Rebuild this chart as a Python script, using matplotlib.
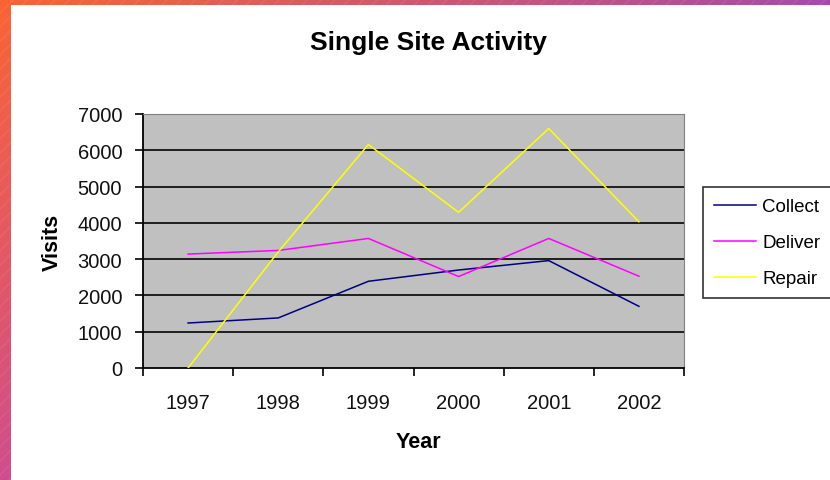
import numpy as np
import matplotlib
matplotlib.use("Agg")
import matplotlib.pyplot as plt
from matplotlib.patches import Rectangle

years = ["1997", "1998", "1999", "2000", "2001", "2002"]
collect = [1240, 1380, 2390, 2700, 2960, 1700]
deliver = [3140, 3240, 3570, 2520, 3570, 2530]
repair = [0, 3200, 6160, 4290, 6600, 4030]
series_names = ["Collect", "Deliver", "Repair"]
series_colors = ["#000080", "#FF00FF", "#FFFF00"]
y_ticks = [0, 1000, 2000, 3000, 4000, 5000, 6000, 7000]

plt.rcParams['font.family'] = ['Liberation Sans', 'DejaVu Sans']

W, H = 830, 481
fig = plt.figure(figsize=(W / 100, H / 100), dpi=100)

# gradient border background
bg = fig.add_axes([0, 0, 1, 1])
bg.set_axis_off()
xx = np.linspace(0, 1, 200)[None, :]
yy = np.linspace(0, 1, 120)[:, None]
TL = np.array([0xFA, 0x64, 0x34]) / 255
TR = np.array([0xA4, 0x4C, 0xA8]) / 255
BL = np.array([0xD0, 0x4E, 0x8C]) / 255
img = TL[None, None, :] + (TR - TL)[None, None, :] * xx[..., None] + (BL - TL)[None, None, :] * yy[..., None]
img = np.clip(img, 0, 1)
bg.imshow(img, extent=[0, W, H, 0], aspect='auto', interpolation='bilinear')
for s in range(-500, W + 500, 14):
    bg.plot([s, s + 500], [500, 0], color='white', alpha=0.12, lw=0.6)
bg.add_patch(Rectangle((11, 6), W, H, facecolor='white', edgecolor='none', zorder=5))
bg.set_xlim(0, W)
bg.set_ylim(H, 0)

# main axes
L, R, T, B = 143, 684, 115, 369
ax = fig.add_axes([L / W, 1 - B / H, (R - L) / W, (B - T) / H])
ax.set_facecolor('#C0C0C0')
x = np.arange(len(years))
for vals, name, col in zip([collect, deliver, repair], series_names, series_colors):
    ax.plot(x, vals, color=col, lw=1.1, label=name, zorder=3)

ax.set_xlim(-0.5, len(years) - 0.5)
ax.set_ylim(0, 7000)
ax.set_yticks(y_ticks)
ax.set_yticklabels([str(v) for v in y_ticks])
ax.set_xticks(np.arange(-0.5, len(years), 1.0))
ax.set_xticklabels([])
ax.set_xticks(x, minor=True)
ax.set_xticklabels(years, minor=True)
ax.tick_params(axis='x', which='major', direction='out', length=6, width=1.2, color='black')
ax.tick_params(axis='x', which='minor', length=0, pad=18, labelsize=14.5, labelcolor='#111111')
ax.tick_params(axis='y', direction='out', length=6, width=1.2, color='black', pad=9,
               labelsize=14.5, labelcolor='#111111')
for yv in y_ticks[1:-1]:
    ax.axhline(yv, color='#111111', lw=1.3, zorder=2)
ax.spines['left'].set_color('black')
ax.spines['bottom'].set_color('black')
ax.spines['left'].set_linewidth(1.3)
ax.spines['bottom'].set_linewidth(1.3)
ax.spines['top'].set_color('#808080')
ax.spines['right'].set_color('#808080')

fig.text(428 / W, 1 - 43 / H, "Single Site Activity", ha='center', va='center',
         fontsize=19, fontweight='bold')
fig.text(418 / W, 1 - 442 / H, "Year", ha='center', va='center',
         fontsize=15.5, fontweight='bold')
fig.text(52 / W, 1 - 242 / H, "Visits", ha='center', va='center', rotation=90,
         fontsize=15.5, fontweight='bold')

leg = fig.legend(loc='upper left', bbox_to_anchor=(703 / W, 1 - 188 / H),
                 frameon=True, fancybox=False, fontsize=13.5, handlelength=2.25,
                 handletextpad=0.3, labelspacing=1.0, borderpad=0.6, borderaxespad=0)
leg.get_frame().set_edgecolor('black')
leg.get_frame().set_linewidth(1.2)
leg.get_frame().set_facecolor('white')

fig.savefig('out.png', dpi=100)
